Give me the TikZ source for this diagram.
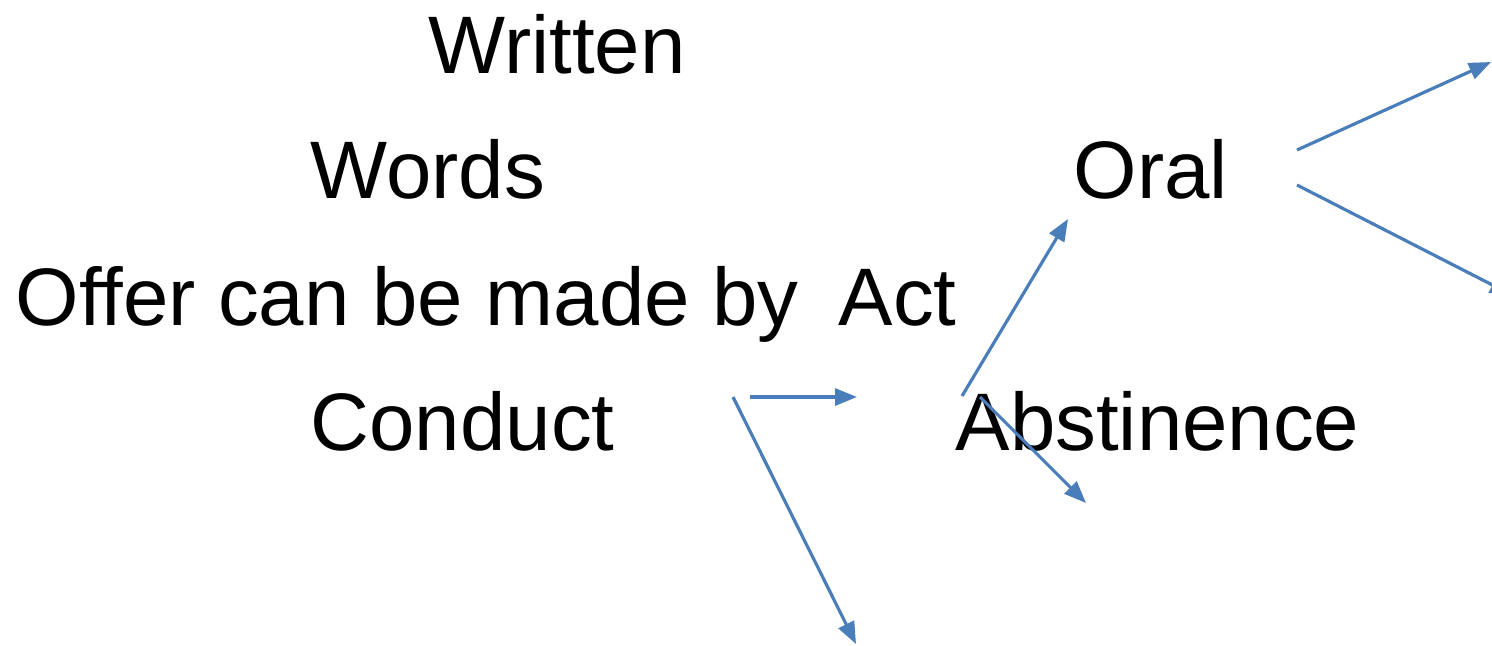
\documentclass[tikz,border=0pt]{standalone}
\usepackage{fontspec}
\setmainfont{Liberation Sans}
\usetikzlibrary{arrows.meta}
\definecolor{officeblue}{RGB}{74,126,187}

\begin{document}
\begin{tikzpicture}[
    x=0.01cm, y=-0.01cm,
    word/.style={anchor=base west, inner sep=0pt, font=\fontsize{23.2}{28}\selectfont},
    link/.style={officeblue, line width=0.9pt, -{Triangle[length=0.22cm, width=0.17cm]}}
]
    \useasboundingbox (0,0) rectangle (1492,645);

    % --- LEWA KOLUMNA ---
    \node[word] (written) at (428,73) {Written};
    \node[word] (words) at (310,198) {Words};
    \node[word] (offer) at (15,325) {Offer can be made by};
    \node[word] (act) at (838,325) {Act};
    \node[word] (conduct) at (310,450) {Conduct};

    % --- PRAWA KOLUMNA ---
    \node[word] (oral) at (1073,198) {Oral};
    \node[word] (abst) at (955,450) {Abstinence};

    % punkty startowe strzalek
    \coordinate (oralA) at (1297,150);
    \coordinate (oralB) at (1297,185);
    \coordinate (condA) at (750,397);
    \coordinate (condB) at (733,397);
    \coordinate (actA) at (962,396);
    \coordinate (actB) at (980,397);

    % punkty koncowe
    \coordinate (endOralA) at (1491,62);
    \coordinate (endOralB) at (1512,295);
    \coordinate (endCondA) at (857,397);
    \coordinate (endCondB) at (856,644);
    \coordinate (endActA) at (1068,219);
    \coordinate (endActB) at (1086,503);

    \draw[link] (oralA) -- (endOralA);
    \draw[link] (oralB) -- (endOralB);
    \draw[link] (condA) -- (endCondA);
    \draw[link] (condB) -- (endCondB);
    \draw[link] (actA) -- (endActA);
    \draw[link] (actB) -- (endActB);

\end{tikzpicture}
\end{document}
